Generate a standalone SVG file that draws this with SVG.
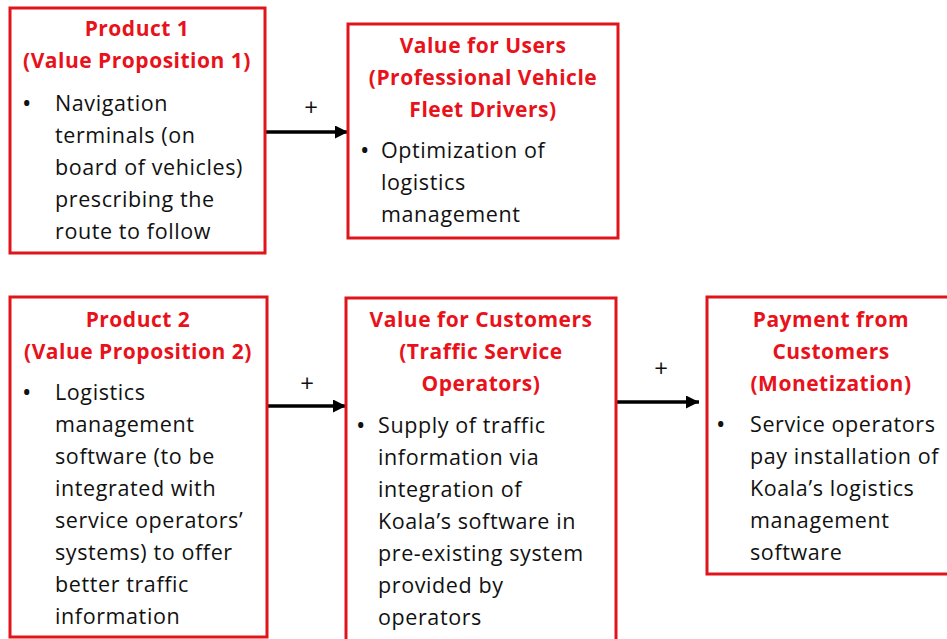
<svg xmlns="http://www.w3.org/2000/svg" width="947" height="639" viewBox="0 0 947 639">
<style>
.box{fill:#fff;stroke:#e0141b;stroke-width:3}
.t{font-family:"Open Sans",Lato,sans-serif;font-weight:bold;font-size:21px;letter-spacing:0.5px;fill:#e8121b;text-anchor:middle}
.b{font-family:"Open Sans",Lato,sans-serif;font-size:21.5px;letter-spacing:0.6px;fill:#111}
.d{font-family:"Open Sans",Lato,sans-serif;font-size:25px;fill:#111}
.p{font-family:"Open Sans",Lato,sans-serif;font-size:24px;fill:#111;text-anchor:middle}
.c{stroke:#000;stroke-width:3.5;fill:none}
</style>
<defs>
<marker id="ah" markerUnits="userSpaceOnUse" markerWidth="14" markerHeight="14" refX="13" refY="6.5" orient="auto">
<path d="M0,0 L13,6.5 L0,13 Z" fill="#000"/>
</marker>
</defs>
<rect width="947" height="639" fill="#fff"/>
<g id="connectors">
<line class="c" x1="266" y1="132" x2="348" y2="132" marker-end="url(#ah)"/>
<text class="p" x="311" y="116">+</text>
<line class="c" x1="268" y1="406" x2="346" y2="406" marker-end="url(#ah)"/>
<text class="p" x="307" y="392">+</text>
<line class="c" x1="617" y1="402" x2="699" y2="402" marker-end="url(#ah)"/>
<text class="p" x="661" y="377">+</text>
</g>
<g id="product1">
<rect class="box" x="10" y="8" width="255" height="245"/>
<text class="t" x="137" y="36">Product 1</text>
<text class="t" x="137" y="68">(Value Proposition 1)</text>
<text class="d" x="22" y="112">•</text>
<text class="b" x="55" y="111">Navigation</text>
<text class="b" x="55" y="143">terminals (on</text>
<text class="b" x="55" y="175">board of vehicles)</text>
<text class="b" x="55" y="207">prescribing the</text>
<text class="b" x="55" y="239">route to follow</text>
</g>
<g id="users">
<rect class="box" x="348" y="24" width="270" height="214"/>
<text class="t" x="483" y="53">Value for Users</text>
<text class="t" x="483" y="85">(Professional Vehicle</text>
<text class="t" x="483" y="117">Fleet Drivers)</text>
<text class="d" x="360" y="159">•</text>
<text class="b" x="381" y="158">Optimization of</text>
<text class="b" x="381" y="190">logistics</text>
<text class="b" x="381" y="222">management</text>
</g>
<g id="product2">
<rect class="box" x="10" y="297" width="257" height="340"/>
<text class="t" x="138" y="327">Product 2</text>
<text class="t" x="138" y="359">(Value Proposition 2)</text>
<text class="d" x="22" y="401">•</text>
<text class="b" x="55" y="400">Logistics</text>
<text class="b" x="55" y="432">management</text>
<text class="b" x="55" y="464">software (to be</text>
<text class="b" x="55" y="496">integrated with</text>
<text class="b" x="55" y="528">service operators’</text>
<text class="b" x="55" y="560">systems) to offer</text>
<text class="b" x="55" y="592">better traffic</text>
<text class="b" x="55" y="624">information</text>
</g>
<g id="customers">
<rect class="box" x="346" y="298" width="270" height="346"/>
<text class="t" x="481" y="327">Value for Customers</text>
<text class="t" x="481" y="359">(Traffic Service</text>
<text class="t" x="481" y="391">Operators)</text>
<text class="d" x="356" y="434">•</text>
<text class="b" x="378" y="433">Supply of traffic</text>
<text class="b" x="378" y="465">information via</text>
<text class="b" x="378" y="497">integration of</text>
<text class="b" x="378" y="529">Koala’s software in</text>
<text class="b" x="378" y="561">pre-existing system</text>
<text class="b" x="378" y="593">provided by</text>
<text class="b" x="378" y="625">operators</text>
</g>
<g id="payment">
<rect class="box" x="707" y="297" width="250" height="277"/>
<text class="t" x="831" y="327">Payment from</text>
<text class="t" x="831" y="359">Customers</text>
<text class="t" x="831" y="391">(Monetization)</text>
<text class="d" x="716" y="433">•</text>
<text class="b" x="750" y="432">Service operators</text>
<text class="b" x="750" y="464">pay installation of</text>
<text class="b" x="750" y="496">Koala’s logistics</text>
<text class="b" x="750" y="528">management</text>
<text class="b" x="750" y="560">software</text>
</g>
</svg>
